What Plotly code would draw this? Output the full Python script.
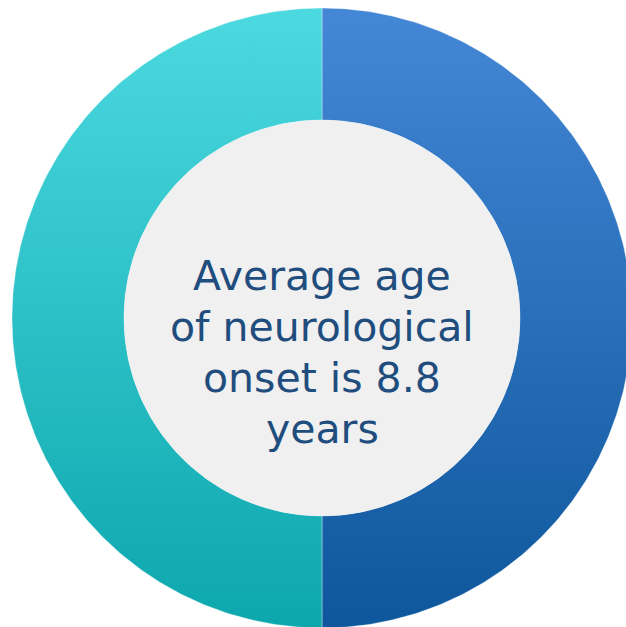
import numpy as np
import plotly.graph_objects as go

# Two halves of the ring, drawn clockwise from 12 o'clock
shares = [50, 50]
top_colors = ["#4487d6", "#4cd9e0"]
bottom_colors = ["#0e579c", "#0ca7ad"]
center_lines = ["Average age", "of neurological", "onset is 8.8", "years"]

W, H = 626, 627
cx, cy = 322, H - 318
r_out, r_in = 310, 198

fig = go.Figure()

total = float(sum(shares))
start = 90.0
for share, c_top, c_bot in zip(shares, top_colors, bottom_colors):
    sweep = 360.0 * share / total
    ang = np.radians(np.linspace(start, start - sweep, 240))
    xs = np.concatenate([cx + r_out * np.cos(ang), cx + r_in * np.cos(ang[::-1])])
    ys = np.concatenate([cy + r_out * np.sin(ang), cy + r_in * np.sin(ang[::-1])])
    fig.add_trace(go.Scatter(
        x=np.append(xs, xs[0]), y=np.append(ys, ys[0]),
        mode="lines", fill="toself",
        line=dict(width=0.6, color="rgba(255,255,255,0.6)"),
        fillgradient=dict(type="vertical", start=cy - r_out, stop=cy + r_out,
                          colorscale=[[0, c_bot], [1, c_top]]),
        hoverinfo="skip", showlegend=False,
    ))
    start -= sweep

# Light centre disc
fig.add_shape(type="circle", xref="x", yref="y",
              x0=cx - r_in, x1=cx + r_in, y0=cy - r_in, y1=cy + r_in,
              fillcolor="#f0f0f0", line=dict(width=0), layer="above")

# Centre caption, one annotation per line for tighter leading
line_gap = 51
first_y = H - 276
for i, txt in enumerate(center_lines):
    fig.add_annotation(x=cx, y=first_y - i * line_gap, xref="x", yref="y",
                       text=txt, showarrow=False, align="center",
                       xanchor="center", yanchor="middle",
                       font=dict(family="DejaVu Sans", size=41, color="#1f4d7e"))

fig.update_layout(
    width=W, height=H, margin=dict(l=0, r=0, t=0, b=0),
    paper_bgcolor="white", plot_bgcolor="white",
    xaxis=dict(range=[0, W], visible=False, fixedrange=True),
    yaxis=dict(range=[0, H], visible=False, fixedrange=True),
)

fig.write_html("out.html")
